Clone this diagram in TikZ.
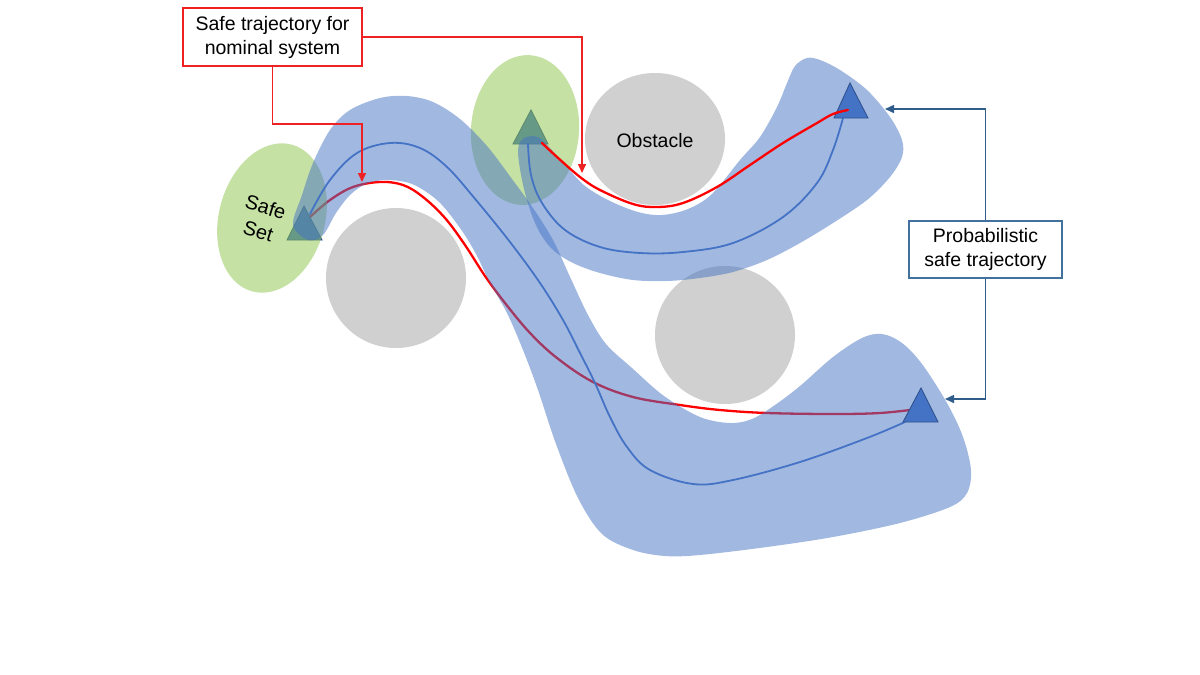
\documentclass[tikz,border=0pt]{standalone}
\usepackage{fontspec}
\setmainfont{Liberation Sans}
\usetikzlibrary{arrows.meta}
\definecolor{bandblue}{HTML}{4472C4}
\definecolor{tribord}{HTML}{2F528F}
\definecolor{obst}{HTML}{D0D0D0}
\definecolor{safegreen}{HTML}{8BC34A}
\definecolor{nomred}{HTML}{FF0000}
\definecolor{boxred}{HTML}{EE2222}
\definecolor{connblue}{HTML}{2F5C8A}
\definecolor{boxblue}{HTML}{41719C}
\begin{document}
\begin{tikzpicture}[x=1pt,y=-1pt,
  band/.style={fill=bandblue,fill opacity=0.5,draw=none},
  obstacle/.style={fill=obst,draw=none},
  safeset/.style={fill=safegreen,fill opacity=0.5,draw=none},
  nompath/.style={draw=nomred,line width=2.3pt,line cap=round},
  probpath/.style={draw=bandblue,line width=1.8pt,line cap=round},
  goal/.style={fill=bandblue,draw=tribord,line width=0.9pt},
  labelbox/.style={draw,line width=1.3pt,fill=white,align=center,inner sep=0pt,font=\fontsize{19.5}{24}\selectfont},
  redconn/.style={draw=boxred,line width=1.5pt,-{Triangle[length=9pt,width=8pt]}},
  blueconn/.style={draw=connblue,line width=1.5pt,-{Triangle[length=9pt,width=8pt]}}
]
\useasboundingbox (0,0) rectangle (1200,675);

% obstacles
\fill[obstacle] (655,139) ellipse [x radius=70, y radius=66];
\node[font=\fontsize{19.5}{24}\selectfont] (obsl) at (655,141) {Obstacle};
\fill[obstacle] (396,278) circle [radius=70];
\fill[obstacle] (725,335) ellipse [x radius=70, y radius=69];

% nominal trajectory B (under band)
\draw[nompath] plot[smooth, tension=0.6] coordinates {(310,217) (330,200) (353,187) (380,182) (403,185) (423,197) (445,218) (465,245) (485,276) (505,303) (530,333) (557,358) (593,382) (633,397) (680,405) (720,410) (767,413) (833,414) (880,413) (918,409)};

% start triangles (under the safe sets)
\draw[goal] (304,206) -- (287,240) -- (322,240) -- cycle;
\draw[goal] (531,110) -- (513,144) -- (548,144) -- cycle;

% safe sets
\fill[safeset, rotate around={-15:(272,218)}] (272,218) ellipse [x radius=53, y radius=76];
\fill[safeset, rotate around={-4:(525,130)}] (525,130) ellipse [x radius=54, y radius=75];
\node[rotate=-17, align=center, font=\fontsize{20}{25}\selectfont] (safel) at (262,219) {Safe\\Set};

% band B
\fill[band] plot[smooth cycle, tension=0.55] coordinates {
(293,225) (302,195) (313,163) (330,130) (350,110) (380,98) (407,96) (433,102) (460,119) (487,146) (512,179) (533,208) (553,240) (571,279) (588,315) (606,344) (632,368) (664,396) (700,417) (730,423) (752,419) (775,405) (800,386) (833,357) (862,338) (882,334) (902,343) (922,364) (947,403) (963,437) (971,470) (967,493) (950,507) (900,523) (833,537) (767,547) (700,555) (665,556) (633,550) (602,534) (578,498) (556,444) (538,390) (523,350) (507,313) (490,283) (476,254) (460,228) (438,201) (412,184) (386,180) (366,184) (350,195) (336,213) (323,235) (308,240)};

% band A
\fill[band] plot[smooth cycle, tension=0.55] coordinates {
(518,150) (524,138) (538,137) (550,148) (566,166) (585,186) (610,201) (638,212) (662,215) (688,209) (712,194) (740,160) (760,137) (777,107) (787,83) (795,66) (807,58) (820,60) (840,70) (867,90) (890,117) (902,140) (902,157) (890,177) (867,200) (833,223) (800,243) (767,260) (733,272) (700,278) (667,281) (633,280) (600,273) (573,263) (553,250) (540,233) (530,210) (522,180)};

% probabilistic trajectories
\draw[probpath] plot[smooth, tension=0.6] coordinates {(310,214) (330,180) (357,153) (390,143) (420,148) (447,167) (476,200) (510,242) (540,283) (563,320) (580,353) (595,383) (610,417) (627,447) (650,470) (693,484) (733,480) (800,462) (867,438) (905,422)};
\draw[probpath] plot[smooth, tension=0.6] coordinates {(528,144) (531,175) (542,203) (565,230) (600,247) (640,253) (683,252) (733,243) (783,217) (817,183) (833,150) (843,118)};

% goal triangles
\draw[goal] (850,83) -- (834,118) -- (868,118) -- cycle;
\draw[goal] (921,388) -- (903,422) -- (938,422) -- cycle;

% nominal trajectory A
\draw[nompath] plot[smooth, tension=0.6] coordinates {(542,143) (557,157) (580,177) (600,190) (633,204) (657,207) (683,203) (717,187) (750,165) (783,143) (817,123) (833,114) (848,110)};

% label boxes
\node[labelbox, draw=boxred, minimum width=179pt, minimum height=58pt] (box1) at (272.5,37) {Safe trajectory for\\nominal system};
\node[labelbox, draw=boxblue, minimum width=153pt, minimum height=57pt] (box2) at (985.5,249.5) {Probabilistic\\safe trajectory};

% connector targets
\coordinate (t1) at (362,182);
\coordinate (k1) at (362,124);
\coordinate (t2) at (582,173);
\coordinate (t3) at (885,109);
\coordinate (t4) at (945,399);

\draw[redconn] (box1.south) |- (k1) -- (t1);
\draw[redconn] (box1.east) -| (t2);
\draw[blueconn] (box2.north) |- (t3);
\draw[blueconn] (box2.south) |- (t4);
\end{tikzpicture}
\end{document}
